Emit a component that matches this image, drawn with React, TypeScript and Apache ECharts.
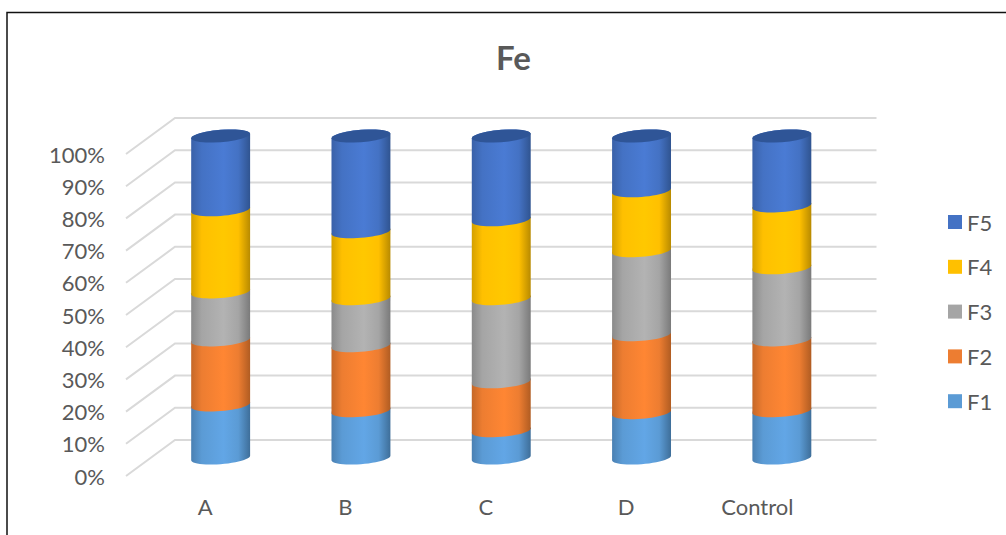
import React, { useEffect, useRef } from "react";
import * as echarts from "echarts";

const categories = ["A", "B", "C", "D", "Control"];
const tickValues = [0, 10, 20, 30, 40, 50, 60, 70, 80, 90, 100];
const seriesNames = ["F1", "F2", "F3", "F4", "F5"];
const legendOrder = ["F5", "F4", "F3", "F2", "F1"];
const f1 = [16.5, 14.7, 8.5, 14.1, 14.7];
const f2 = [20.2, 20.2, 15.2, 24.2, 22];
const f3 = [14.9, 14.6, 25.8, 26.1, 22.4];
const f4 = [25.5, 20.8, 24.5, 18.6, 19.2];
const f5 = [22.9, 29.7, 26, 17, 21.7];
const values = [f1, f2, f3, f4, f5];
const baseColors = ["#5B9BD5", "#ED7D31", "#A5A5A5", "#FFC000", "#4472C4"];
const lightColors = ["#62A6E6", "#FF8633", "#B3B3B3", "#FFC800", "#4A7BD4"];
const leftColors = ["#4A80B2", "#C56828", "#8A8A8A", "#D4A000", "#3A61A8"];
const rightColors = ["#3E6E99", "#B05C22", "#7A7A7A", "#B88A00", "#305490"];
const capColor = "#2F5597";

const DEPTH_X = 49;
const DEPTH_Y = 36;
const TILT = 2.3;
const BULGE = 6.2;

function arc(cx: number, cy: number, a: number, from: number, to: number) {
  const pts: number[][] = [];
  const n = 24;
  for (let i = 0; i <= n; i++) {
    const t = from + ((to - from) * i) / n;
    pts.push([cx + a * Math.cos(t), cy - TILT * Math.cos(t) + BULGE * Math.sin(t)]);
  }
  return pts;
}

function wallSeries() {
  return {
    type: "custom",
    name: "wall",
    silent: true,
    z: 1,
    data: tickValues.map((v) => [0, v]),
    encode: { x: 0, y: 1 },
    renderItem: (params: any, api: any) => {
      const y = api.coord([0, api.value(1)])[1];
      const left = params.coordSys.x;
      const right = params.coordSys.x + params.coordSys.width;
      return {
        type: "polyline",
        shape: {
          points: [
            [left, y],
            [left + DEPTH_X, y - DEPTH_Y],
            [right + DEPTH_X, y - DEPTH_Y],
          ],
        },
        style: { fill: "none", stroke: "#D9D9D9", lineWidth: 2 },
      };
    },
  };
}

function cylinderSeries(si: number) {
  const fill = new echarts.graphic.LinearGradient(0, 0, 1, 0, [
    { offset: 0, color: leftColors[si] },
    { offset: 0.18, color: baseColors[si] },
    { offset: 0.55, color: lightColors[si] },
    { offset: 0.8, color: baseColors[si] },
    { offset: 1, color: rightColors[si] },
  ]);
  return {
    type: "custom",
    name: seriesNames[si],
    z: 2 + si,
    itemStyle: { color: baseColors[si] },
    data: values[si].map((v, i) => {
      let base = 0;
      for (let k = 0; k < si; k++) base += values[k][i];
      return [i, base, base + v];
    }),
    encode: { x: 0, y: [1, 2] },
    renderItem: (_params: any, api: any) => {
      const low = api.coord([api.value(0), api.value(1)]);
      const high = api.coord([api.value(0), api.value(2)]);
      const a = api.size([1, 0])[0] * 0.21;
      const cx = low[0] + DEPTH_X / 2;
      const yLow = low[1] - DEPTH_Y / 2;
      const yHigh = high[1] - DEPTH_Y / 2;
      const children: any[] = [
        {
          type: "polygon",
          shape: {
            points: [
              ...arc(cx, yHigh, a, Math.PI, 2 * Math.PI),
              ...arc(cx, yLow, a, 0, Math.PI),
            ],
          },
          style: { fill },
        },
      ];
      if (si === values.length - 1) {
        children.push({
          type: "polygon",
          shape: { points: arc(cx, yHigh, a, 0, 2 * Math.PI) },
          style: { fill: capColor },
        });
      }
      return { type: "group", children };
    },
  };
}

export default function App() {
  const ref = useRef<HTMLDivElement>(null);
  useEffect(() => {
    if (!ref.current) return;
    const chart = echarts.init(ref.current, undefined, { renderer: "svg" });
    chart.setOption({
      animation: false,
      backgroundColor: "#FFFFFF",
      textStyle: { fontFamily: "Lato" },
      title: {
        text: "Fe",
        left: 496,
        top: 40,
        padding: 0,
        textStyle: { fontFamily: "Lato", fontSize: 33, fontWeight: "bold", color: "#595959" },
      },
      grid: { left: 126, right: 178.5, top: 154, bottom: 59 },
      legend: {
        data: legendOrder,
        orient: "vertical",
        left: 948,
        top: 211,
        padding: 0,
        itemWidth: 14,
        itemHeight: 14,
        itemGap: 22.8,
        icon: "rect",
        textStyle: { fontFamily: "Lato", fontSize: 22, color: "#595959" },
      },
      xAxis: {
        type: "category",
        data: categories,
        axisLine: { show: false },
        axisTick: { show: false },
        axisLabel: {
          margin: 19,
          formatter: (v: string) => (v === "Control" ? `{plain|${v}}` : `{shift|${v}}`),
          rich: {
            shift: { fontFamily: "Lato", fontSize: 22, color: "#595959", padding: [0, 0, 0, 18] },
            plain: { fontFamily: "Lato", fontSize: 22, color: "#595959" },
          },
        },
      },
      yAxis: {
        type: "value",
        min: 0,
        max: 100,
        interval: 10,
        axisLine: { show: false },
        axisTick: { show: false },
        splitLine: { show: false },
        axisLabel: { formatter: "{value}%", margin: 21, fontFamily: "Lato", fontSize: 22, color: "#595959" },
      },
      graphic: [
        {
          type: "polyline",
          silent: true,
          shape: { points: [[7, 540], [7, 12.5], [1010, 12.5]] },
          style: { fill: "none", stroke: "#111111", lineWidth: 1.5 },
        },
      ],
      series: [wallSeries(), ...seriesNames.map((_, i) => cylinderSeries(i))],
    });
    return () => chart.dispose();
  }, []);
  return <div ref={ref} style={{ position: "absolute", left: 0, top: 0, width: 1006, height: 535 }} />;
}
